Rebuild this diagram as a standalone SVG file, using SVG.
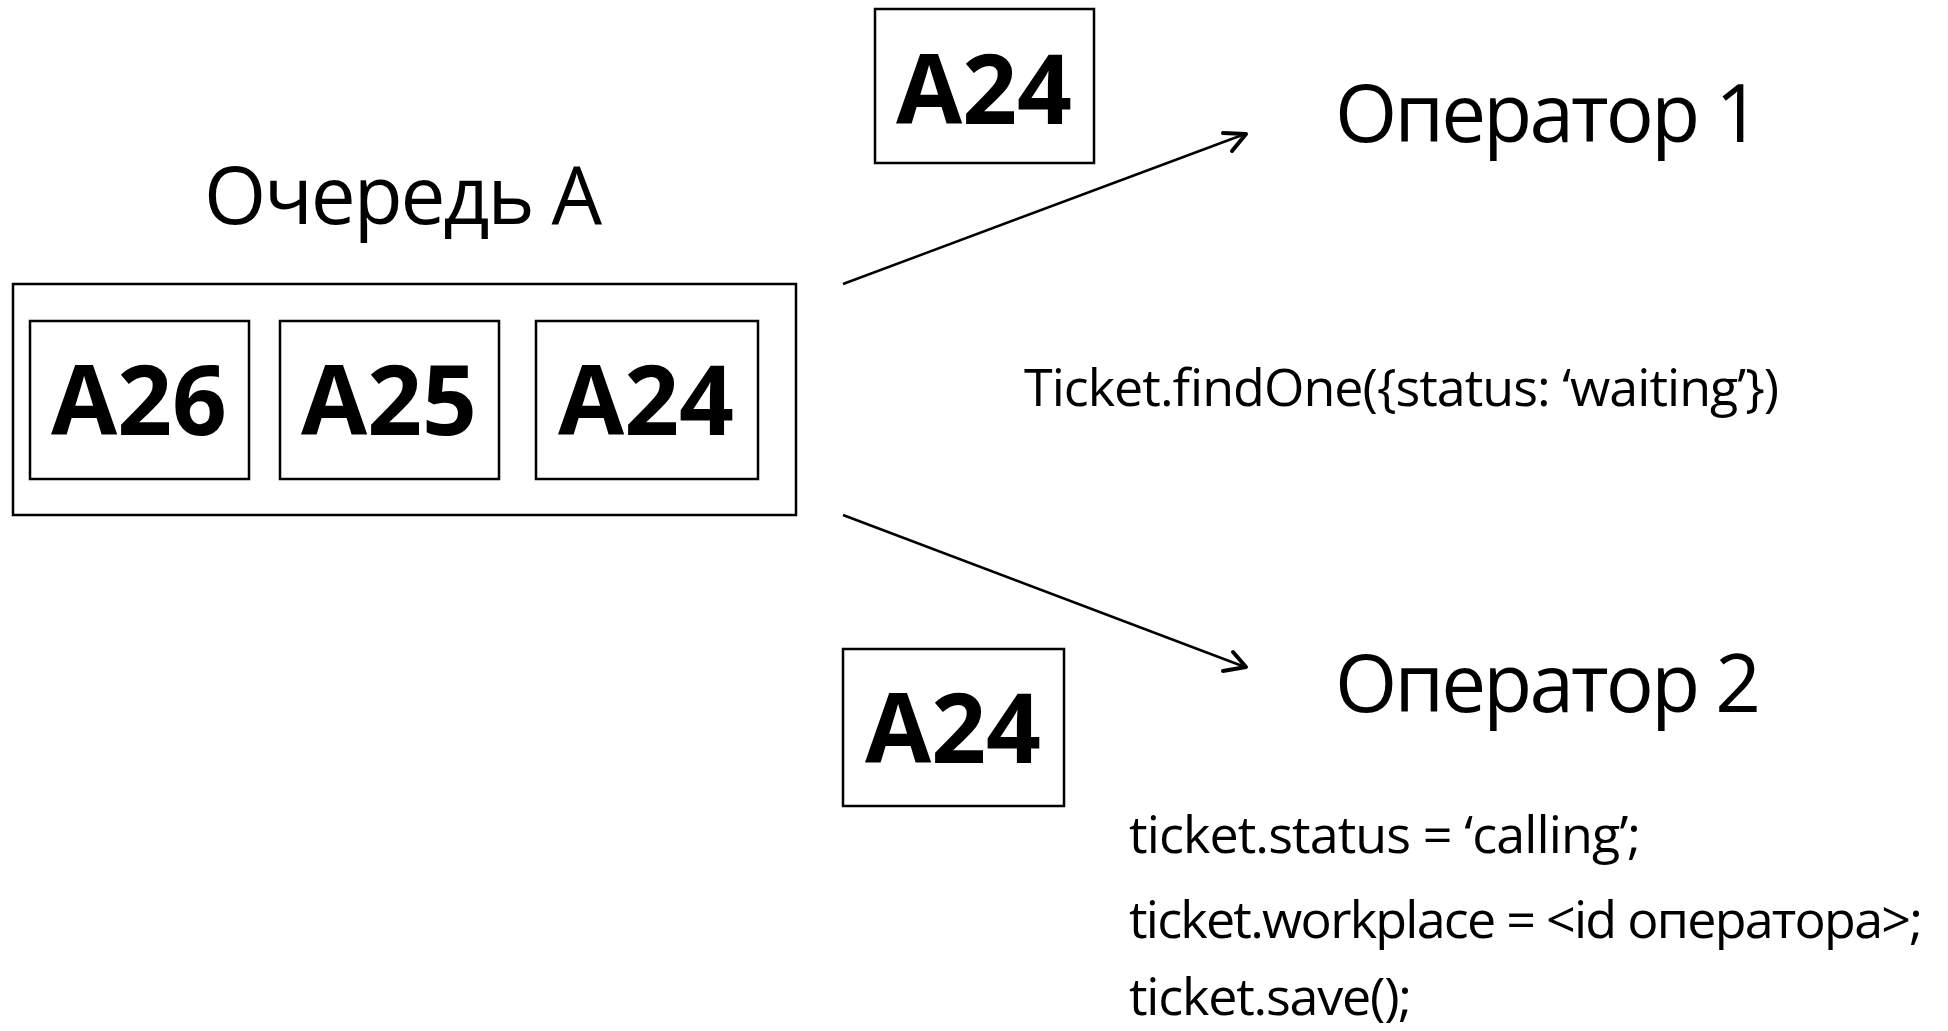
<svg xmlns="http://www.w3.org/2000/svg" width="1948" height="1031" viewBox="0 0 1948 1031">
<style>
.box{fill:none;stroke:#000;stroke-width:2.5}
.tk{font-family:"Open Sans","Liberation Sans",sans-serif;font-weight:bold;font-size:96px;text-anchor:middle;fill:#000}
.lbl{font-family:"Open Sans","Liberation Sans",sans-serif;font-size:80px;fill:#000}
.code{font-family:"Open Sans","Liberation Sans",sans-serif;font-size:52px;fill:#000}
.conn{fill:none;stroke:#000;stroke-width:2.5}
.head{fill:none;stroke:#000;stroke-width:4;stroke-linecap:round;stroke-linejoin:round}
</style>
<rect width="1948" height="1031" fill="#fff"/>
<g id="queue">
  <text class="lbl" x="204" y="224" textLength="398">Очередь А</text>
  <rect class="box" x="13" y="284" width="783" height="231"/>
</g>
<g id="ticket-a26">
  <rect class="box" x="30" y="321" width="219" height="158"/>
  <text class="tk" x="139" y="435">A26</text>
</g>
<g id="ticket-a25">
  <rect class="box" x="280" y="321" width="219" height="158"/>
  <text class="tk" x="389" y="435">A25</text>
</g>
<g id="ticket-a24">
  <rect class="box" x="536" y="321" width="222" height="158"/>
  <text class="tk" x="646" y="435">A24</text>
</g>
<g id="ticket-a24-top">
  <rect class="box" x="875" y="9" width="219" height="154"/>
  <text class="tk" x="984" y="124">A24</text>
</g>
<g id="ticket-a24-bottom">
  <rect class="box" x="843" y="649" width="221" height="157"/>
  <text class="tk" x="953" y="763">A24</text>
</g>
<g id="operator1">
  <text class="lbl" x="1335" y="142" textLength="426">Оператор 1</text>
</g>
<g id="operator2">
  <text class="lbl" x="1335" y="712" textLength="426">Оператор 2</text>
</g>
<g id="find-code">
  <text class="code" x="1024" y="406" textLength="755">Ticket.findOne({status: ‘waiting’})</text>
</g>
<g id="save-code">
  <text class="code" x="1129" y="853" textLength="512">ticket.status = ‘calling’;</text>
  <text class="code" x="1129" y="938" textLength="794">ticket.workplace = &lt;id оператора&gt;;</text>
  <text class="code" x="1129" y="1015" textLength="283">ticket.save();</text>
</g>
<g id="connectors">
  <line class="conn" x1="843" y1="284" x2="1245" y2="134"/>
  <polyline class="head" points="1223,133 1246,134 1232,151"/>
  <line class="conn" x1="843" y1="515" x2="1245" y2="667"/>
  <polyline class="head" points="1233,652 1246,667 1223,671"/>
</g>
</svg>
